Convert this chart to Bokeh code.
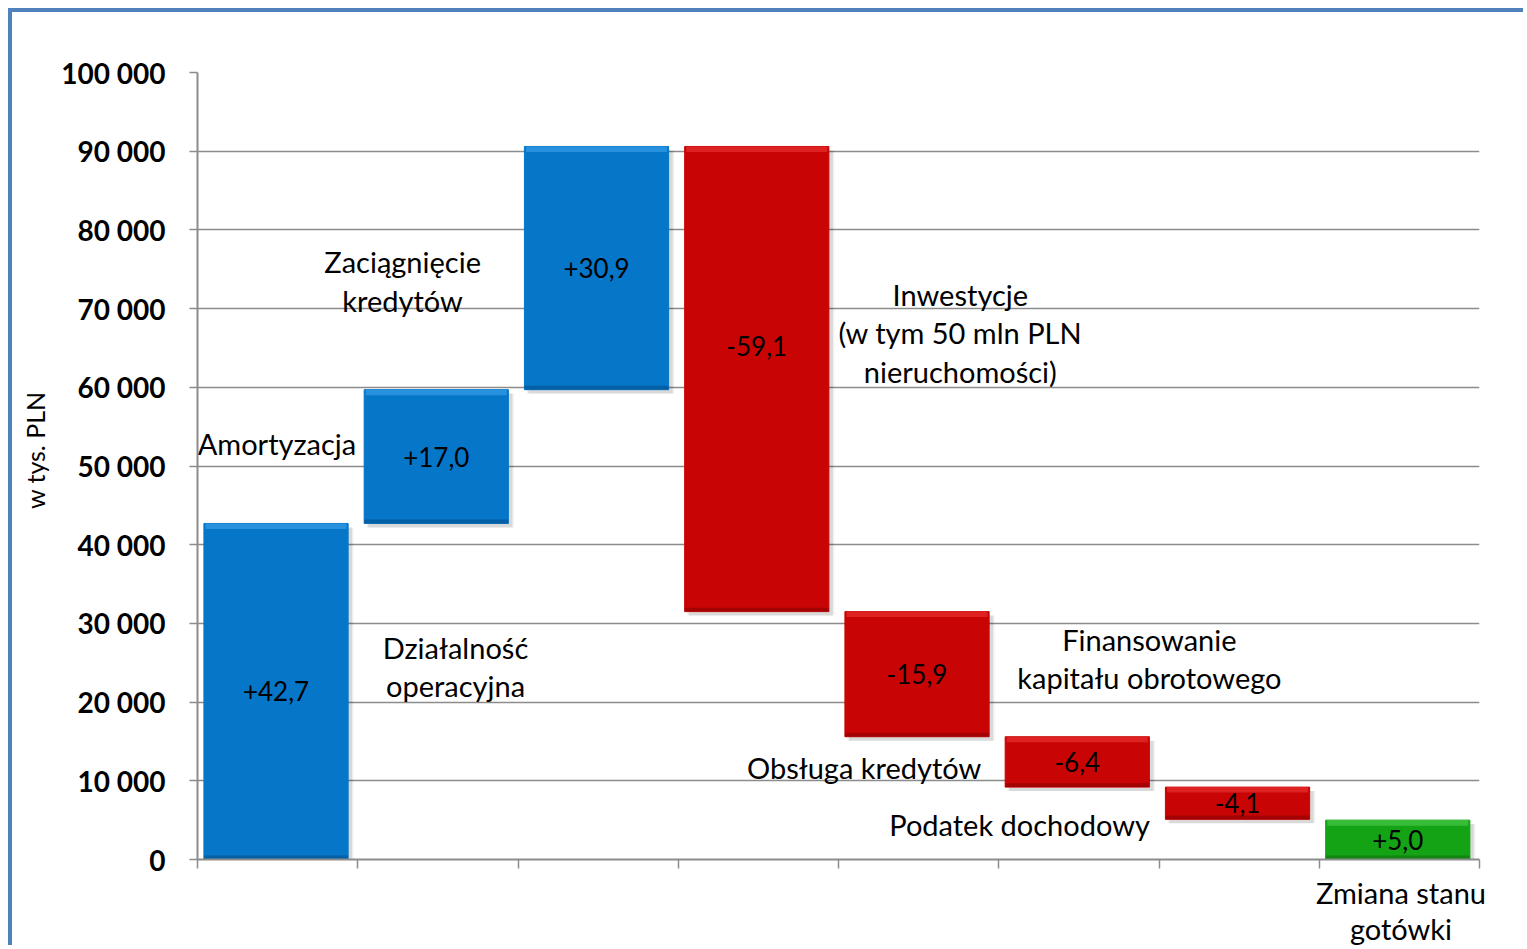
from bokeh.plotting import figure
from bokeh.models import Range1d, FixedTicker, ColumnDataSource, LinearAxis
from bokeh.core.properties import value
from bokeh.embed import file_html
from bokeh.resources import INLINE

# ---- data (thousand PLN) ----
categories = ["Działalność operacyjna", "Amortyzacja", "Zaciągnięcie kredytów",
              "Inwestycje", "Finansowanie kapitału obrotowego", "Obsługa kredytów",
              "Podatek dochodowy", "Zmiana stanu gotówki"]
changes = [42.7, 17.0, 30.9, -59.1, -15.9, -6.4, -4.1]
final_value = 5.0
value_labels = ["+42,7", "+17,0", "+30,9", "-59,1", "-15,9", "-6,4", "-4,1", "+5,0"]
y_ticks = [0, 10000, 20000, 30000, 40000, 50000, 60000, 70000, 80000, 90000, 100000]
y_tick_labels = ["0", "10 000", "20 000", "30 000", "40 000", "50 000", "60 000",
                 "70 000", "80 000", "90 000", "100 000"]
annot_texts = ["Działalność\noperacyjna", "Amortyzacja", "Zaciągnięcie\nkredytów",
               "Inwestycje\n(w tym 50 mln PLN\nnieruchomości)",
               "Finansowanie\nkapitału obrotowego", "Obsługa kredytów",
               "Podatek dochodowy"]
axis_label_last = "Zmiana stanu\ngotówki"

# ---- layout constants ----
annot_x = [1.61, 0.496, 1.28, 4.76, 5.94, 4.16, 5.13]
annot_y = [24500, 52800, 73500, 66900, 25500, 11700, 4450]
label_offsets = [0, 0, 0, 4200, 0, 0, 0, 0]

# ---- waterfall geometry ----
bottoms, tops, colors, hi_colors = [], [], [], []
run = 0.0
for c in changes:
    start, end = run, run + c
    bottoms.append(min(start, end) * 1000)
    tops.append(max(start, end) * 1000)
    colors.append("#0676C9" if c > 0 else "#C90404")
    hi_colors.append("#45A8EE" if c > 0 else "#EE3A3A")
    run = end
bottoms.append(0)
tops.append(final_value * 1000)
colors.append("#14A314")
hi_colors.append("#55D455")
xs = [i + 0.49 for i in range(len(categories))]
mids = [(b + t) / 2 + o for b, t, o in zip(bottoms, tops, label_offsets)]

src = ColumnDataSource(dict(x=xs, bottom=bottoms, top=tops, color=colors, hi=hi_colors,
                            lab=value_labels, mid=mids,
                            hi_bottom=[t - 700 for t in tops],
                            lo_top=[b + 500 for b in bottoms],
                            sx=[x + 0.025 for x in xs],
                            sb=[b - 500 for b in bottoms],
                            st=[t - 500 for t in tops]))

W, H = 1515, 937
p = figure(width=W, height=H, output_backend="svg", toolbar_location=None,
           x_range=Range1d(0, 8), y_range=Range1d(0, 100000),
           min_border_left=185, min_border_right=48, min_border_top=60, min_border_bottom=80,
           styles={"border-top": "4px solid #4F81BD", "border-left": "4px solid #4F81BD",
                   "margin-left": "8px", "margin-top": "8px"})
p.outline_line_color = None
p.background_fill_color = "white"
p.border_fill_color = "white"

# grid
p.xgrid.visible = False
p.ygrid.ticker = FixedTicker(ticks=y_ticks)
p.ygrid.grid_line_color = "#8C8C8C"
p.ygrid.grid_line_width = 1.5

# axes
p.yaxis.ticker = FixedTicker(ticks=y_ticks)
p.yaxis.major_label_overrides = {t: l for t, l in zip(y_ticks, y_tick_labels)}
p.yaxis.major_label_text_font = "Lato"
p.yaxis.major_label_text_font_style = "bold"
p.yaxis.major_label_text_font_size = "28px"
p.yaxis.major_label_text_color = "black"
p.yaxis.major_label_standoff = 24
p.yaxis.axis_line_color = "#8C8C8C"
p.yaxis.axis_line_width = 2
p.yaxis.major_tick_line_color = "#8C8C8C"
p.yaxis.major_tick_line_width = 1.5
p.yaxis.major_tick_out = 8
p.yaxis.major_tick_in = 0
p.yaxis.minor_tick_line_color = None
p.yaxis.axis_label = "\u00a0" * 5 + "w tys. PLN"
p.yaxis.axis_label_text_font = "Lato"
p.yaxis.axis_label_text_font_style = "normal"
p.yaxis.axis_label_text_font_size = "25px"
p.yaxis.axis_label_text_color = "black"
p.yaxis.axis_label_standoff = 8

n_ticks = len(categories) + 1
p.xaxis.ticker = FixedTicker(ticks=list(range(n_ticks)))
p.xaxis.major_label_overrides = {i: "" for i in range(n_ticks)}
p.xaxis.major_label_standoff = 0
p.xaxis.major_label_text_font_size = "2px"
p.xaxis.axis_line_color = "#8C8C8C"
p.xaxis.axis_line_width = 2
p.xaxis.major_tick_line_color = "#8C8C8C"
p.xaxis.major_tick_line_width = 1.5
p.xaxis.major_tick_out = 9
p.xaxis.major_tick_in = 0
p.xaxis.minor_tick_line_color = None

# category label under the last bar
last_center = len(categories) - 0.49
lab_axis = LinearAxis(ticker=FixedTicker(ticks=[last_center]),
                      major_label_overrides={last_center: axis_label_last},
                      axis_line_color=None, major_tick_line_color=None,
                      minor_tick_line_color=None, major_label_standoff=0,
                      major_label_text_font="Lato", major_label_text_font_size="29px",
                      major_label_text_color="black", major_label_text_line_height=1.05)
p.add_layout(lab_axis, "below")

# shadows
p.vbar(x="sx", bottom="sb", top="st", width=0.9, source=src,
       fill_color="black", fill_alpha=0.10, line_color=None)
p.vbar(x="sx", bottom="sb", top="st", width=0.92, source=src,
       fill_color="black", fill_alpha=0.05, line_color=None)
# bars
p.vbar(x="x", bottom="bottom", top="top", width=0.9, source=src,
       fill_color="color", line_color="color", line_width=1)
p.vbar(x="x", bottom="hi_bottom", top="top", width=0.88, source=src,
       fill_color="hi", fill_alpha=0.55, line_color=None)
p.vbar(x="x", bottom="bottom", top="lo_top", width=0.9, source=src,
       fill_color="black", fill_alpha=0.18, line_color=None)

# value labels
p.text(x="x", y="mid", text="lab", source=src, text_align="center",
       text_baseline="middle", text_font=value("Lato"), text_font_size="26px",
       text_color="black")

# annotations
p.text(x=annot_x, y=annot_y, text=annot_texts, text_align="center",
       text_baseline="middle", text_font=value("Lato"), text_font_size="29px",
       text_color="black", text_line_height=1.09)

open("out.html", "w").write(file_html(p, INLINE))
